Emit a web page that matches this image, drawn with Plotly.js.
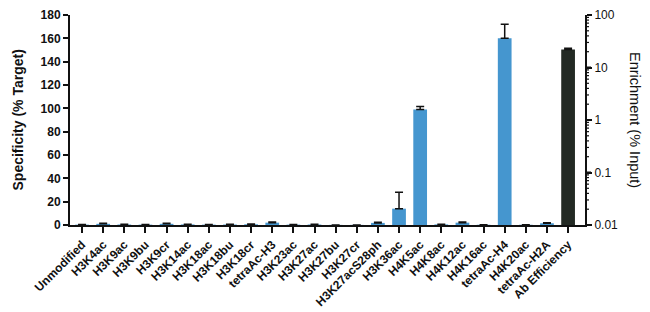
<!DOCTYPE html>
<html><head><meta charset="utf-8">
<script src="https://cdn.plot.ly/plotly-3.0.1.min.js"></script>
<style>html,body{margin:0;padding:0;background:#fff}#chart{width:650px;height:312px}</style>
</head><body><div id="chart"></div>
<script>
const categories = ["Unmodified","H3K4ac","H3K9ac","H3K9bu","H3K9cr","H3K14ac","H3K18ac","H3K18bu","H3K18cr","tetraAc-H3","H3K23ac","H3K27ac","H3K27bu","H3K27cr","H3K27acS28ph","H3K36ac","H4K5ac","H4K8ac","H4K12ac","H4K16ac","tetraAc-H4","H4K20ac","tetraAc-H2A","Ab Efficiency"];
const specCategories = categories.slice(0, 23);
const specificity = [0.3,1.0,0.4,0.3,1.0,0.5,0.3,0.4,0.6,2.0,0.3,0.4,0.1,0.1,1.8,14,99,0.5,2.0,0.2,160,0.2,1.5];
const specError = [0.2,0.4,0.2,0.2,0.4,0.2,0.1,0.2,0.3,0.5,0.1,0.2,0,0,0.5,14,2.5,0.2,0.5,0.1,12,0.1,0.5];
const enrichCategories = ["Ab Efficiency"];
const enrichment = [22];
const enrichError = [1.2];
const leftTicks = [0,20,40,60,80,100,120,140,160,180];
const rightTicks = [0.01,0.1,1,10,100];
const rightTickText = ["0.01","0.1","1","10","100"];
const decades = [0.01,0.1,1,10];
const minorDigits = [2,3,4,5,6,7,8,9];
const rightMinorTicks = [];
decades.forEach(d => minorDigits.forEach(m => rightMinorTicks.push(+(d*m).toPrecision(3))));

const F = "Liberation Sans, Arial, sans-serif";
const traces = [
  {type:'bar', x:specCategories, y:specificity, width:0.65, yaxis:'y',
   marker:{color:'#4596cf'},
   error_y:{type:'data', symmetric:false, array:specError, arrayminus:specError.map(()=>0), color:'#111', thickness:1.5, width:4}},
  {type:'bar', x:enrichCategories, y:enrichment, width:0.65, yaxis:'y2',
   marker:{color:'#232a24'},
   error_y:{type:'data', symmetric:false, array:enrichError, arrayminus:[0], color:'#111', thickness:1.5, width:4}}
];
// tick marks of the log axis, drawn as pixel-sized shapes anchored on the right edge of the plot
const tickShape = (v, len, w) => ({type:'line', xref:'paper', xsizemode:'pixel', xanchor:1, x0:0, x1:len,
  yref:'y2', y0:v, y1:v, line:{color:'#111', width:w}, layer:'above'});
const shapes = rightTicks.map(v => tickShape(v, 6, 2)).concat(rightMinorTicks.map(v => tickShape(v, 4, 1.2)));

const layout = {
  width:650, height:312, margin:{l:70, r:65, t:15, b:87},
  paper_bgcolor:'#fff', plot_bgcolor:'#fff', showlegend:false, barmode:'overlay',
  font:{family:F, color:'#111'},
  xaxis:{type:'category', categoryorder:'array', categoryarray:categories, range:[-0.57, 23.8],
    showline:true, linecolor:'#111', linewidth:2, ticks:'outside', ticklen:6, tickwidth:2, tickcolor:'#111',
    tickangle:-45, tickfont:{family:F, size:12, weight:'bold', color:'#111'}, showgrid:false, zeroline:false},
  yaxis:{range:[0,180], tickvals:leftTicks, showline:true, linecolor:'#111', linewidth:2, ticks:'outside', ticklen:5, tickwidth:2, tickcolor:'#111',
    tickfont:{family:F, size:12, weight:'bold', color:'#111'}, showgrid:false, zeroline:false},
  yaxis2:{type:'log', range:[-2,2], overlaying:'y', side:'right', anchor:'x', tickmode:'array',
    tickvals:rightTicks, ticktext:rightTickText,
    showline:true, linecolor:'#111', linewidth:2, ticks:'outside', ticklen:5, tickwidth:2, tickcolor:'#111',
    tickfont:{family:F, size:12, color:'#111'}, showgrid:false, zeroline:false},
  shapes: shapes,
  annotations:[
    {text:'Specificity (% Target)', xref:'paper', yref:'paper', x:(17.5-70)/515, y:0.5, xanchor:'center', yanchor:'middle', textangle:-90, showarrow:false,
     font:{family:F, size:14, weight:'bold', color:'#111'}},
    {text:'Enrichment (% Input)', xref:'paper', yref:'paper', x:(635-70)/515, y:0.5, xanchor:'center', yanchor:'middle', textangle:90, showarrow:false,
     font:{family:F, size:14.5, color:'#111'}}
  ]
};
Plotly.newPlot('chart', traces, layout, {staticPlot:true, displayModeBar:false});
</script></body></html>
